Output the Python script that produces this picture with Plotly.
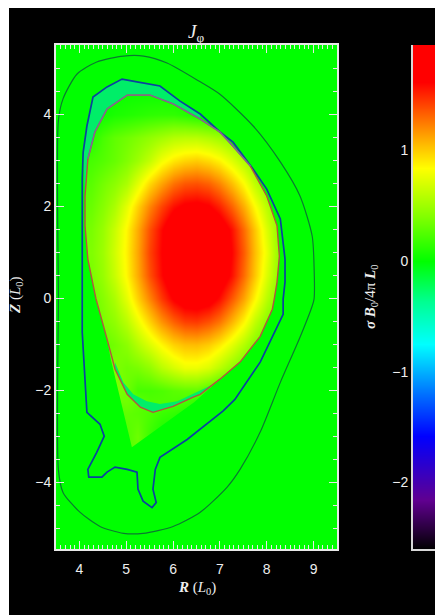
import plotly.graph_objects as go

W, H = 435, 615
R_GRID = [4.0,4.25,4.5,4.75,5.0,5.25,5.5,5.75,6.0,6.25,6.5,6.75,7.0,7.25,7.5,7.75,8.0,8.25,8.5]
Z_GRID = [-3.5,-3.0,-2.5,-2.25,-2.0,-1.5,-1.0,-0.5,0.0,0.5,1.0,1.5,2.0,2.5,3.0,3.5,4.0,4.5]
J_GRID = [
 [0,0,0,0,.3,.3,.12,.02,0,0,0,0,0,0,0,0,0,0,0],
 [0,0,0,.05,.25,.34,.18,.06,.03,0,0,0,0,0,0,0,0,0,0],
 [0,0,.12,.25,.3,.28,.24,.18,.15,.1,.06,.03,0,0,0,0,0,0,0],
 [0,0,.25,.35,.35,.3,.25,.25,.25,.22,.15,.06,.03,0,0,0,0,0,0],
 [0,.1,.35,.4,.35,.22,.22,.24,.28,.3,.3,.22,.1,.05,0,0,0,0,0],
 [.1,.14,.3,.4,.35,.38,.46,.6,.7,.78,.78,.72,.6,.46,.33,.25,.18,.12,.05],
 [.2,.22,.3,.36,.44,.58,.72,.86,.98,1.04,1.05,1.0,.9,.75,.58,.41,.3,.2,.1],
 [.25,.28,.38,.46,.6,.78,.98,1.18,1.33,1.43,1.45,1.38,1.27,1.08,.87,.63,.43,.3,.18],
 [.3,.33,.42,.55,.75,.98,1.22,1.45,1.64,1.74,1.76,1.72,1.58,1.36,1.13,.87,.6,.38,.25],
 [.35,.38,.48,.65,.86,1.1,1.38,1.6,1.82,1.9,1.92,1.88,1.78,1.58,1.3,1.02,.72,.45,.3],
 [.4,.4,.5,.68,.88,1.12,1.42,1.62,1.85,1.94,1.95,1.92,1.82,1.62,1.35,1.05,.78,.45,.35],
 [.35,.38,.48,.65,.86,1.1,1.38,1.6,1.82,1.9,1.92,1.88,1.78,1.58,1.3,1.02,.72,.45,.3],
 [.3,.33,.42,.55,.75,.98,1.22,1.42,1.58,1.66,1.68,1.64,1.52,1.33,1.1,.85,.6,.38,.25],
 [.25,.28,.36,.44,.55,.74,.96,1.13,1.28,1.36,1.38,1.33,1.22,1.05,.85,.62,.43,.3,.18],
 [.2,.22,.26,.32,.4,.5,.63,.8,.91,.97,1.0,.95,.87,.73,.57,.41,.3,.2,.1],
 [.05,.1,.22,.3,.35,.4,.46,.52,.58,.6,.6,.56,.5,.42,.33,.25,.18,.12,.05],
 [0,0,.04,.08,.1,.12,.14,.15,.15,.12,.08,.05,.03,0,0,0,0,0,0],
 [0,0,0,.02,.03,.03,.03,.03,.02,.01,0,0,0,0,0,0,0,0,0],
]
OUTER_R = [3.55,3.65,3.95,4.37,4.94,5.37,5.87,6.58,7.0,7.71,8.29,8.71,8.97,9.01,9.01,8.97,8.71,8.29,7.86,7.43,7.15,6.58,6.0,5.36,4.94,4.44,4.01,3.65,3.55,3.55,3.55]
OUTER_Z = [3.85,4.33,4.87,5.13,5.26,5.26,5.11,4.7,4.43,3.74,2.96,2.22,1.35,0.7,-0.02,-0.17,-0.85,-1.83,-2.91,-3.72,-4.11,-4.65,-4.96,-5.11,-5.11,-4.96,-4.65,-4.22,-3.72,0.0,3.85]
BLUE_R = [4.06,4.08,4.16,4.29,4.59,4.91,5.23,5.72,6.15,6.58,7.0,7.28,7.71,8.0,8.29,8.39,8.39,8.35,8.35,8.12,7.86,7.32,7.07,6.3,5.72,5.62,5.57,5.64,5.55,5.36,5.25,5.23,5.02,4.76,4.59,4.48,4.2,4.18,4.37,4.53,4.44,4.16,4.12,4.06,4.06,4.06,4.06]
BLUE_Z = [2.59,3.17,3.74,4.37,4.59,4.76,4.7,4.61,4.28,4.0,3.61,3.39,2.8,2.37,1.72,0.85,0.35,-0.02,-0.35,-0.83,-1.39,-2.2,-2.45,-3.07,-3.46,-3.72,-4.15,-4.44,-4.55,-4.41,-4.15,-3.78,-3.72,-3.67,-3.78,-3.89,-3.89,-3.72,-3.35,-3.0,-2.74,-2.48,-1.83,-0.74,0.0,1.43,2.59]
EDGE_R = [4.35,4.18,4.12,4.12,4.18,4.33,4.59,5.02,5.51,6.0,6.58,7.0,7.28,7.65,8.0,8.22,8.27,8.22,8.16,8.12,7.86,7.43,7.0,6.58,6.43,6.0,5.57,5.3,5.02,4.76,4.59,4.37,4.35]
EDGE_Z = [0.0,0.85,1.57,2.22,3.02,3.61,4.11,4.41,4.41,4.22,3.89,3.61,3.3,2.87,2.22,1.57,0.91,0.35,-0.02,-0.24,-0.83,-1.39,-1.76,-2.09,-2.15,-2.35,-2.48,-2.37,-2.09,-1.54,-0.89,-0.09,0.0]
EDGE_TOP_R = [4.18,4.33,4.59,5.02,5.51,6.0,6.58,7.0,7.28,7.65]
EDGE_TOP_Z = [3.02,3.61,4.11,4.41,4.41,4.22,3.89,3.61,3.3,2.87]
# plasma edge plus the wedge under it; everything outside is flat green
HOLE_R = [4.35,4.18,4.12,4.12,4.18,4.33,4.59,5.02,5.51,6.0,6.58,7.0,7.28,7.65,8.0,8.22,8.27,8.22,8.16,8.12,7.86,7.43,7.0,6.45,5.12,4.67,4.59,4.37,4.35]
HOLE_Z = [0.0,0.85,1.57,2.22,3.02,3.61,4.11,4.41,4.41,4.22,3.89,3.61,3.3,2.87,2.22,1.57,0.91,0.35,-0.02,-0.24,-0.83,-1.39,-1.76,-2.26,-3.24,-1.33,-0.89,-0.09,0.0]
FRAME_R = [3.5,9.5,9.5,3.5,3.5]
FRAME_Z = [-5.45,-5.45,5.5,5.5,-5.45]
BAND_R = [4.12,4.08,4.16,4.29,4.59,4.91,5.23,5.72,6.15,6.58,6.58,6.0,5.51,5.02,4.59,4.33,4.18,4.12]
BAND_Z = [2.22,3.17,3.74,4.37,4.59,4.76,4.7,4.61,4.28,4.0,3.89,4.22,4.41,4.41,4.11,3.61,3.02,2.22]
CRESCENT_R = [4.76,4.94,5.15,5.44,5.72,6.09,6.51,6.9,6.58,6.43,6.0,5.57,5.3,5.02,4.76]
CRESCENT_Z = [-1.39,-1.83,-2.09,-2.24,-2.3,-2.24,-2.04,-1.85,-2.09,-2.15,-2.35,-2.48,-2.37,-2.09,-1.54]
CBAR_LEVELS = [-2.6,-2.46,-2.16,-1.58,-1.2,-0.75,-0.36,0.0,0.4,0.84,1.14,1.62,1.95]
CBAR_X = [0,1]
X_TICKS = [4,5,6,7,8,9]
Y_TICKS = [-4,-2,0,2,4]
C_TICKS = [-2,-1,0,1]
ZMIN, ZMAX = -2.6, 1.95
STOPS = [(-2.6,"#000000"),(-2.46,"#200030"),(-2.16,"#600090"),(-1.58,"#0000ff"),(-1.2,"#0070ff"),(-.75,"#00ffff"),(-.36,"#00ff90"),(0,"#00ff00"),(.4,"#80ff00"),(.84,"#ffff00"),(1.14,"#ffa000"),(1.62,"#ff0000"),(1.95,"#ff0000")]
colorscale = [[(v-ZMIN)/(ZMAX-ZMIN), c] for v, c in STOPS]

TXT = "#eeeeee"
GREEN = "#00ff00"
SPRING = "#00ee68"
fig = go.Figure()
fig.add_trace(go.Heatmap(x=R_GRID, y=Z_GRID, z=J_GRID, zmin=ZMIN, zmax=ZMAX, colorscale=colorscale,
                         zsmooth="best", showscale=False, hoverinfo="skip"))
fig.add_trace(go.Scatter(x=FRAME_R+[None]+HOLE_R, y=FRAME_Z+[None]+HOLE_Z, mode="none", fill="toself",
                         fillcolor=GREEN, hoverinfo="skip", showlegend=False))
fig.add_trace(go.Scatter(x=BAND_R, y=BAND_Z, mode="none", fill="toself", fillcolor=SPRING, hoverinfo="skip", showlegend=False))
fig.add_trace(go.Scatter(x=CRESCENT_R, y=CRESCENT_Z, mode="none", fill="toself", fillcolor=SPRING, hoverinfo="skip", showlegend=False))
fig.add_trace(go.Scatter(x=OUTER_R, y=OUTER_Z, mode="lines", line=dict(color="#0a7a30", width=1.2, shape="spline", smoothing=0.7), showlegend=False))
fig.add_trace(go.Scatter(x=BLUE_R, y=BLUE_Z, mode="lines", line=dict(color="#0a42a0", width=1.7), showlegend=False))
fig.add_trace(go.Scatter(x=EDGE_R, y=EDGE_Z, mode="lines", line=dict(color="#b5533f", width=1.4), showlegend=False))
fig.add_trace(go.Scatter(x=EDGE_TOP_R, y=EDGE_TOP_Z, mode="lines", line=dict(color="#7d6a98", width=1.4), showlegend=False))
fig.add_trace(go.Heatmap(x=CBAR_X, y=CBAR_LEVELS, z=[[v, v] for v in CBAR_LEVELS], zmin=ZMIN, zmax=ZMAX,
                         colorscale=colorscale, zsmooth="best", showscale=False, xaxis="x2", yaxis="y2", hoverinfo="skip"))

axcommon = dict(showgrid=False, zeroline=False, showline=True, linecolor="#e8e8e8", linewidth=2, mirror="ticks",
                ticks="inside", tickcolor="#e8e8e8", tickfont=dict(family="Liberation Sans", size=14, color=TXT))
y_bot, y_top = 1-549/H, 1-45/H
fig.update_layout(
    width=W, height=H, autosize=False, margin=dict(l=0, r=0, t=0, b=0), paper_bgcolor="white", plot_bgcolor=GREEN,
    xaxis=dict(domain=[56/W, 337/W], range=[3.5, 9.5], tickvals=X_TICKS, ticktext=[str(t) for t in X_TICKS], ticklen=8,
               ticklabelstandoff=6,
               minor=dict(dtick=0.1, ticklen=4, ticks="inside", tickcolor="#e8e8e8", showgrid=False), **axcommon),
    yaxis=dict(domain=[y_bot, y_top], range=[-5.45, 5.5], tickvals=Y_TICKS, ticktext=[str(t).replace("-", "\u2212") for t in Y_TICKS], ticklen=8,
               minor=dict(dtick=0.5, ticklen=4, ticks="inside", tickcolor="#e8e8e8", showgrid=False), **axcommon),
    xaxis2=dict(domain=[413/W, 1], range=[0, 1], showticklabels=False, ticks="", showgrid=False, zeroline=False,
                showline=True, linecolor="#d8d8d8", linewidth=2, anchor="y2"),
    yaxis2=dict(domain=[y_bot, y_top], range=[ZMIN, ZMAX], tickvals=C_TICKS, ticktext=[str(t).replace("-", "\u2212") for t in C_TICKS],
                ticks="", showgrid=False, zeroline=False, showline=True, linecolor="#d8d8d8", linewidth=2, anchor="x2",
                tickfont=dict(family="Liberation Sans", size=14, color=TXT)),
    shapes=[dict(type="rect", xref="paper", yref="paper", x0=9/W, x1=1, y0=0, y1=1-8/H, fillcolor="black", line_width=0, layer="below")],
    annotations=[
        dict(text="<i>J</i><sub>\u03c6</sub>", x=196/W, y=1-33/H, xref="paper", yref="paper", showarrow=False, xanchor="center", yanchor="middle",
             font=dict(family="Liberation Serif", size=19, color=TXT)),
        dict(text="<b><i>R</i></b> (<i>L</i><sub>0</sub>)", x=197/W, y=1-588/H, xref="paper", yref="paper", showarrow=False, xanchor="center", yanchor="middle",
             font=dict(family="Liberation Serif", size=15, color=TXT)),
        dict(text="<b><i>Z</i></b> (<i>L</i><sub>0</sub>)", x=16/W, y=1-295/H, xref="paper", yref="paper", showarrow=False, textangle=-90, xanchor="center", yanchor="middle",
             font=dict(family="Liberation Serif", size=15, color=TXT)),
        dict(text="<b><i>\u03c3 B</i></b><sub>0</sub>/4\u03c0 <b><i>L</i></b><sub>0</sub>", x=371/W, y=1-297/H, xref="paper", yref="paper", showarrow=False, textangle=-90, xanchor="center", yanchor="middle",
             font=dict(family="Liberation Serif", size=15, color=TXT)),
    ],
)
fig.write_html("out.html", config={"displayModeBar": False}, post_script="document.body.style.margin='0';")
